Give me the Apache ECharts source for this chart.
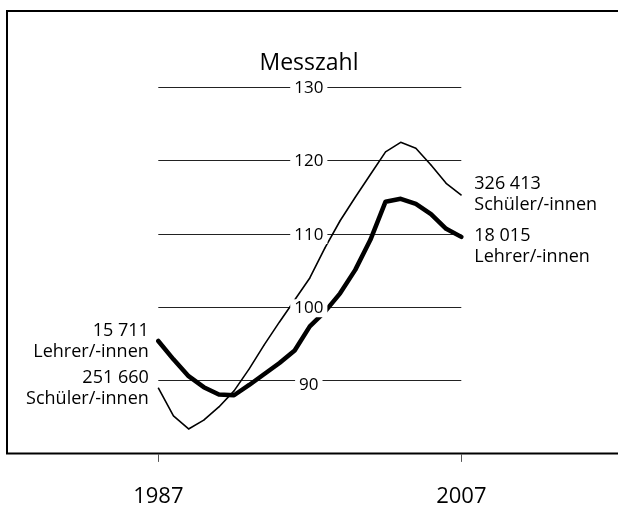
<!DOCTYPE html>
<html>
<head>
<meta charset="utf-8">
<script src="https://cdn.jsdelivr.net/npm/echarts@6/dist/echarts.min.js"></script>
<style>
  html, body { margin: 0; padding: 0; background: #fff; }
  #chart { width: 618px; height: 509px; }
</style>
</head>
<body>
<div id="chart"></div>
<script>
// Jahre 1987 - 2007
var years = [];
for (var y = 1987; y <= 2007; y++) years.push(String(y));

// Messzahlen
var schueler = [89.0, 85.2, 83.4, 84.6, 86.4, 88.6, 91.6, 94.9, 98.0, 101.0, 104.0,
                108.1, 111.8, 115.0, 118.1, 121.2, 122.5, 121.7, 119.4, 116.9, 115.3];
var lehrer = [95.4, 92.9, 90.6, 89.1, 88.1, 88.0, 89.4, 90.9, 92.4, 94.1, 97.4,
              99.4, 101.9, 105.1, 109.2, 114.4, 114.8, 114.1, 112.7, 110.7, 109.6];

var yTicks = [90, 100, 110, 120, 130];

var startLabels = { schueler: '251 660\nSchüler/-innen', lehrer: '15 711\nLehrer/-innen' };
var endLabels = { schueler: '326 413\nSchüler/-innen', lehrer: '18 015\nLehrer/-innen' };

var FONT = '"Open Sans", "Noto Sans", sans-serif';

function withStartLabel(values, text) {
    return values.map(function (v, i) {
        if (i !== 0) return v;
        return {
            value: v,
            label: {
                show: true,
                position: 'left',
                distance: 9,
                align: 'right',
                formatter: text,
                fontFamily: FONT,
                fontSize: 18,
                lineHeight: 21,
                color: '#000'
            }
        };
    });
}

var chart = echarts.init(document.getElementById('chart'));

var option = {
    animation: false,
    backgroundColor: '#fff',
    title: {
        text: 'Messzahl',
        left: 'center',
        top: 52,
        padding: 0,
        textStyle: { fontFamily: FONT, fontSize: 23, fontWeight: 'normal', color: '#000' }
    },
    graphic: [{
        type: 'rect',
        shape: { x: 7, y: 11, width: 700, height: 442.5 },
        style: { fill: 'none', stroke: '#000', lineWidth: 2 },
        z: 0
    }],
    grid: { left: 158.3, right: 156.7, top: 14, bottom: 55.1 },
    xAxis: {
        type: 'category',
        data: years,
        boundaryGap: false,
        axisLine: { show: false },
        axisTick: { show: true, length: 8, lineStyle: { color: '#555', width: 1 } },
        axisLabel: {
            interval: function (i) { return i === 0 || i === years.length - 1; },
            margin: 32,
            fontFamily: FONT,
            fontSize: 22,
            color: '#000'
        },
        splitLine: { show: false }
    },
    yAxis: {
        type: 'value',
        min: 80,
        max: 140,
        interval: 10,
        axisLine: { show: false },
        axisTick: { show: false },
        axisLabel: { show: false },
        splitLine: {
            show: true,
            showMinLine: false,
            showMaxLine: false,
            lineStyle: { color: '#222', width: 1 }
        }
    },
    series: [{
        name: 'Schüler/-innen',
        type: 'line',
        data: withStartLabel(schueler, startLabels.schueler),
        symbol: 'circle',
        symbolSize: 1,
        itemStyle: { color: '#000' },
        z: 2,
        lineStyle: { color: '#000', width: 1.6 },
        endLabel: {
            show: true,
            formatter: endLabels.schueler,
            distance: 13,
            align: 'left',
            fontFamily: FONT,
            fontSize: 18,
            lineHeight: 21,
            color: '#000',
            offset: [0, -1]
        }
    }, {
        name: 'Lehrer/-innen',
        type: 'line',
        data: withStartLabel(lehrer, startLabels.lehrer),
        symbol: 'circle',
        symbolSize: 1,
        itemStyle: { color: '#000' },
        z: 3,
        lineStyle: { color: '#000', width: 4.5, cap: 'round', join: 'round' },
        endLabel: {
            show: true,
            formatter: endLabels.lehrer,
            distance: 13,
            align: 'left',
            fontFamily: FONT,
            fontSize: 18,
            lineHeight: 21,
            color: '#000',
            offset: [0, 9]
        }
    }, {
        // Achsenbeschriftung mitten im Diagramm, mit weissem Hintergrund
        type: 'scatter',
        z: 10,
        symbol: 'circle',
        symbolSize: 1,
        itemStyle: { color: '#fff', opacity: 1 },
        silent: true,
        data: yTicks.map(function (v) {
            return {
                value: [years[10], v],
                label: { offset: v === 90 ? [-1, 5] : [-1, 1] }
            };
        }),
        label: {
            show: true,
            position: 'inside',
            formatter: function (p) { return p.value[1]; },
            fontFamily: FONT,
            fontSize: 17,
            color: '#000',
            backgroundColor: '#fff',
            padding: [1, 4, 0, 4]
        }
    }]
};

chart.setOption(option);
</script>
</body>
</html>
